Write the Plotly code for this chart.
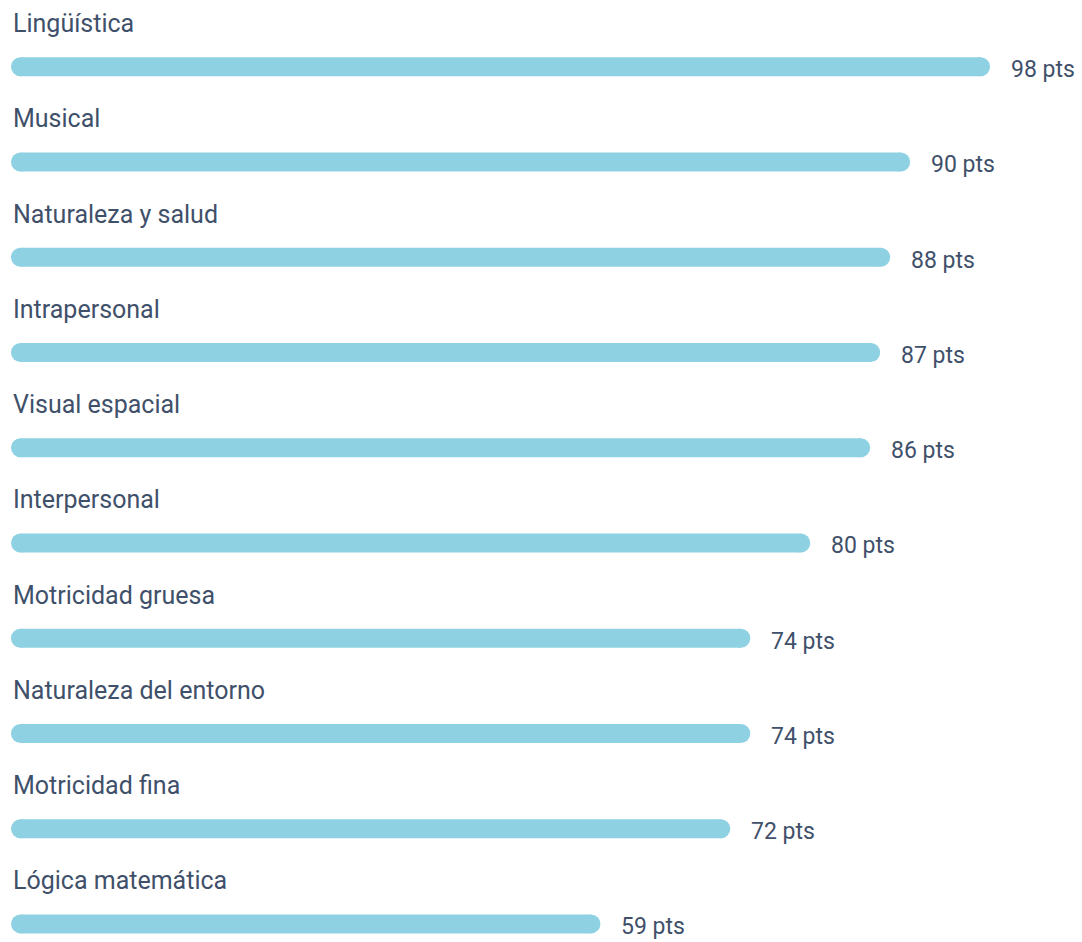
import plotly.graph_objects as go

categories = ["Lingüística", "Musical", "Naturaleza y salud", "Intrapersonal",
              "Visual espacial", "Interpersonal", "Motricidad gruesa",
              "Naturaleza del entorno", "Motricidad fina", "Lógica matemática"]
values = [98, 90, 88, 87, 86, 80, 74, 74, 72, 59]
value_labels = [f"{v} pts" for v in values]

BAR_COLOR = "#8ED1E3"
TEXT_COLOR = "#3F506A"
FONT = "Roboto"
BAR_PX = 19            # bar thickness in pixels
X_MIN, X_MAX = -1.1, 107.2
FIG_W = 1082
px_per_unit = FIG_W / (X_MAX - X_MIN)
r_units = (BAR_PX / 2) / px_per_unit   # cap radius expressed in data units

xs, ys = [], []
for i, v in enumerate(values):
    xs += [r_units, v - r_units, None]
    ys += [i, i, None]

fig = go.Figure()
fig.add_trace(go.Scatter(
    x=xs, y=ys, mode="lines+markers",
    line=dict(color=BAR_COLOR, width=BAR_PX),
    marker=dict(color=BAR_COLOR, size=BAR_PX, line=dict(width=0)),
    hoverinfo="skip", showlegend=False, connectgaps=False))

annotations = []
for i, (c, v, t) in enumerate(zip(categories, values, value_labels)):
    annotations.append(dict(x=0, y=i, xref="x", yref="y", text=c, showarrow=False,
                            xanchor="left", yanchor="middle", yshift=43,
                            font=dict(family=FONT, size=25, color=TEXT_COLOR)))
    annotations.append(dict(x=v, y=i, xref="x", yref="y", text=t, showarrow=False,
                            xanchor="left", yanchor="middle", xshift=19, yshift=-3,
                            font=dict(family=FONT, size=23, color=TEXT_COLOR)))

fig.update_layout(
    width=FIG_W, height=942,
    margin=dict(l=0, r=0, t=0, b=0),
    paper_bgcolor="white", plot_bgcolor="white",
    xaxis=dict(range=[X_MIN, X_MAX], visible=False, fixedrange=True),
    yaxis=dict(range=[9.19, -0.70], visible=False, fixedrange=True),
    annotations=annotations,
    font=dict(family=FONT, color=TEXT_COLOR),
)

fig.write_html("out.html", config={"displayModeBar": False},
               post_script="document.body.style.margin='0';document.body.style.overflow='hidden';")
